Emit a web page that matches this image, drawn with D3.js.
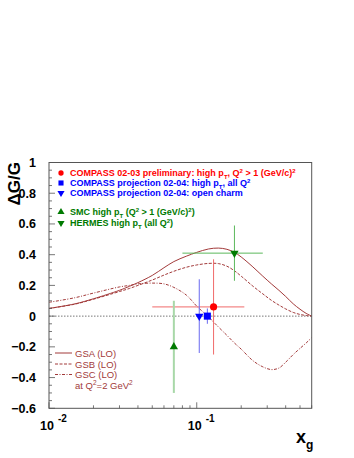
<!DOCTYPE html>
<html>
<head>
<meta charset="utf-8">
<script src="https://cdn.jsdelivr.net/npm/d3@7"></script>
<style>
  body { margin: 0; background: #fff; }
  svg { display: block; font-family: "Liberation Sans", Arial, sans-serif; }
</style>
</head>
<body>
<div id="chart"></div>
<script>
// model curves at Q^2 = 2 GeV^2
const xg  = [0.01, 0.015, 0.02, 0.03, 0.035, 0.04, 0.05, 0.06, 0.07, 0.085, 0.1, 0.12, 0.14, 0.16, 0.18, 0.2, 0.24, 0.28, 0.32, 0.36, 0.4, 0.45, 0.5, 0.55, 0.6]
const gsa = [0.05, 0.08, 0.113, 0.168, 0.194, 0.218, 0.265, 0.315, 0.355, 0.39, 0.415, 0.437, 0.443, 0.435, 0.415, 0.385, 0.32, 0.26, 0.21, 0.168, 0.128, 0.08, 0.045, 0.018, 0]
const gsb = [0.05, 0.078, 0.11, 0.16, 0.18, 0.2, 0.235, 0.267, 0.292, 0.318, 0.333, 0.343, 0.342, 0.325, 0.295, 0.26, 0.195, 0.145, 0.103, 0.072, 0.047, 0.024, 0.011, 0.004, 0]
const gsc = [0.09, 0.12, 0.15, 0.19, 0.2, 0.21, 0.215, 0.21, 0.187, 0.137, 0.065, -0.005, -0.07, -0.125, -0.175, -0.215, -0.29, -0.33, -0.348, -0.338, -0.3, -0.25, -0.21, -0.175, -0.14]

// data points
const ptName  = ["COMPASS prelim", "COMPASS proj highpt", "COMPASS proj charm", "SMC", "HERMES"]
const ptX     = [0.13, 0.118, 0.104, 0.07, 0.18]
const ptY     = [0.06, 0.0, 0.0, -0.20, 0.41]
const ptYErr  = [0.31, 0.05, 0.24, 0.30, 0.18]
const ptXLo   = [0.05, null, null, null, 0.08]
const ptXHi   = [0.21, null, null, null, 0.28]

const yTicks = [-0.6, -0.4, -0.2, 0, 0.2, 0.4, 0.6, 0.8, 1]
const curveLabels = ["GSA (LO)", "GSB (LO)", "GSC (LO)"]

const width = 354, height = 458
const margin = {left: 49, top: 162.5, right: 42.3, bottom: 49.7}
const w = width - margin.left - margin.right,
      h = height - margin.top - margin.bottom

const svg = d3.select("#chart").append("svg")
    .attr("width", width).attr("height", height)

const g = svg.append("g")
    .attr("transform", "translate(" + margin.left + "," + margin.top + ")")

const x = d3.scaleLog().domain([0.01, 0.6]).range([0, w])
const y = d3.scaleLinear().domain([-0.6, 1]).range([h, 0])

g.append("clipPath").attr("id", "clip")
  .append("rect").attr("width", w).attr("height", h)

// zero line
g.append("line")
    .attr("x1", 0).attr("x2", w)
    .attr("y1", y(0)).attr("y2", y(0))
    .attr("stroke", "#555").attr("stroke-width", 0.8)
    .attr("stroke-dasharray", "1.5,1.5")

// curves
const curveColor = "#a23a3a"
const dashes = [null, "3,1.5", "3,1.5,1,1.5"]
const line = d3.line().x(d => x(d[0])).y(d => y(d[1])).curve(d3.curveCatmullRom.alpha(0.5))
;[gsa, gsb, gsc].forEach((s, i) => {
  g.append("path")
    .attr("d", line(xg.map((v, j) => [v, s[j]])))
    .attr("fill", "none")
    .attr("stroke", curveColor)
    .attr("stroke-width", 1)
    .attr("stroke-dasharray", dashes[i])
    .attr("clip-path", "url(#clip)")
})

// error bars and markers
const markColor = ["#ff0000", "#0000ff", "#0000ff", "#007a00", "#007a00"]
const barColor  = ["#f06a6a", "#6a6af0", "#6a6af0", "#a8d8a8", "#5cb85c"]
const barWidth  = [1, 1, 1, 2, 1]
const symbols = [
  d3.symbol().type(d3.symbolCircle).size(40),
  d3.symbol().type(d3.symbolSquare).size(50),
  d3.symbol().type(d3.symbolTriangle).size(30),
  d3.symbol().type(d3.symbolTriangle).size(30),
  d3.symbol().type(d3.symbolTriangle).size(30)
]
const symRot = [0, 0, 180, 0, 180]

ptName.forEach((n, i) => {
  g.append("line")
    .attr("x1", x(ptX[i])).attr("x2", x(ptX[i]))
    .attr("y1", y(ptY[i] - ptYErr[i])).attr("y2", y(ptY[i] + ptYErr[i]))
    .attr("stroke", barColor[i]).attr("stroke-width", barWidth[i])
  if (ptXLo[i] != null) {
    g.append("line")
      .attr("x1", x(ptXLo[i])).attr("x2", x(ptXHi[i]))
      .attr("y1", y(ptY[i])).attr("y2", y(ptY[i]))
      .attr("stroke", barColor[i]).attr("stroke-width", 1)
  }
})
ptName.forEach((n, i) => {
  g.append("path")
    .attr("d", symbols[i]())
    .attr("fill", markColor[i])
    .attr("transform", "translate(" + x(ptX[i]) + "," + y(ptY[i]) + ") rotate(" + symRot[i] + ")")
})

// frame
g.append("rect").attr("width", w).attr("height", h)
  .attr("fill", "none").attr("stroke", "#555").attr("stroke-width", 1)

// y ticks
const yMinor = d3.range(-0.6, 1.0001, 0.05)
g.selectAll(".ymin").data(yMinor).enter().append("line")
  .attr("x1", 0).attr("x2", (d, i) => i % 4 === 0 ? 6 : 3)
  .attr("y1", d => y(d)).attr("y2", d => y(d))
  .attr("stroke", "#555").attr("stroke-width", 0.8)
g.selectAll(".ylab").data(yTicks).enter().append("text")
  .attr("x", -13).attr("y", d => y(d) + 4.5)
  .attr("text-anchor", "end")
  .attr("font-size", 12.5).attr("font-weight", "bold")
  .text(d => d === 0 ? "0" : (d === 1 ? "1" : d3.format(".1f")(d)))

// x ticks
const xMinor = [0.02, 0.03, 0.04, 0.05, 0.06, 0.07, 0.08, 0.09, 0.2, 0.3, 0.4, 0.5, 0.6]
g.selectAll(".xmin").data(xMinor).enter().append("line")
  .attr("x1", d => x(d)).attr("x2", d => x(d))
  .attr("y1", h).attr("y2", h - 3)
  .attr("stroke", "#555").attr("stroke-width", 0.8)
g.selectAll(".xmaj").data([0.01, 0.1]).enter().append("line")
  .attr("x1", d => x(d)).attr("x2", d => x(d))
  .attr("y1", h).attr("y2", h - 6)
  .attr("stroke", "#555").attr("stroke-width", 0.8)
const xl = g.selectAll(".xlab").data([["10", "-2", 0.01], ["10", "-1", 0.1]]).enter()
  .append("text")
  .attr("x", d => x(d[2]) - 9).attr("y", h + 22)
  .attr("font-size", 12.5).attr("font-weight", "bold")
xl.append("tspan").text(d => d[0])
xl.append("tspan").attr("dx", 4).attr("dy", -8).attr("font-size", 10).text(d => d[1])

// axis titles
svg.append("text")
  .attr("transform", "translate(20,162) rotate(-90)")
  .attr("text-anchor", "end")
  .attr("font-size", 17).attr("font-weight", "bold")
  .text("\u0394G/G")
const xt = svg.append("text").attr("x", 296).attr("y", 443)
  .attr("font-size", 18).attr("font-weight", "bold")
xt.append("tspan").text("x")
xt.append("tspan").attr("dy", 6).attr("font-size", 12).text("g")

// data legend
const legY = [173, 183, 193, 212, 223]
const legColor = ["#ff0000", "#0000ff", "#0000ff", "#007a00", "#007a00"]
const legParts = [
  [["COMPASS 02-03 preliminary: high p"], ["T", "sub"], [", Q"], ["2", "sup"], [" > 1 (GeV/c)"], ["2", "sup"]],
  [["COMPASS projection 02-04: high p"], ["T", "sub"], [", all Q"], ["2", "sup"]],
  [["COMPASS projection 02-04: open charm"]],
  [["SMC high p"], ["T", "sub"], [" (Q"], ["2", "sup"], [" > 1 (GeV/c)"], ["2", "sup"], [")"]],
  [["HERMES high p"], ["T", "sub"], [" (all Q"], ["2", "sup"], [")"]]
]
legY.forEach((ly, i) => {
  svg.append("path")
    .attr("d", d3.symbol().type(i === 0 ? d3.symbolCircle : (i === 1 ? d3.symbolSquare : d3.symbolTriangle)).size(i === 1 ? 26 : 22)())
    .attr("fill", legColor[i])
    .attr("transform", "translate(61," + ly + ") rotate(" + symRot[i] + ")")
  const t = svg.append("text").attr("x", 70).attr("y", ly + 3.3)
    .attr("font-size", 9).attr("font-weight", "bold").attr("fill", legColor[i])
  let shift = 0
  legParts[i].forEach(p => {
    const ts = t.append("tspan").text(p[0])
    let target = p[1] === "sub" ? 2.5 : (p[1] === "sup" ? -3.5 : 0)
    if (target !== shift) ts.attr("dy", target - shift)
    if (p[1]) ts.attr("font-size", 6)
    shift = target
  })
})

// curve legend
const cLegY = [353, 364, 374.5]
cLegY.forEach((ly, i) => {
  svg.append("line").attr("x1", 55).attr("x2", 72)
    .attr("y1", ly).attr("y2", ly)
    .attr("stroke", curveColor).attr("stroke-width", 1)
    .attr("stroke-dasharray", dashes[i])
  svg.append("text").attr("x", 75).attr("y", ly + 3.5)
    .attr("font-size", 9.5).attr("fill", curveColor)
    .text(curveLabels[i])
})
const qt = svg.append("text").attr("x", 75).attr("y", 388.5)
  .attr("font-size", 9.5).attr("fill", curveColor)
qt.append("tspan").text("at Q")
qt.append("tspan").attr("dy", -4).attr("font-size", 6.5).text("2")
qt.append("tspan").attr("dy", 4).text("=2 GeV")
qt.append("tspan").attr("dy", -4).attr("font-size", 6.5).text("2")
</script>
</body>
</html>
